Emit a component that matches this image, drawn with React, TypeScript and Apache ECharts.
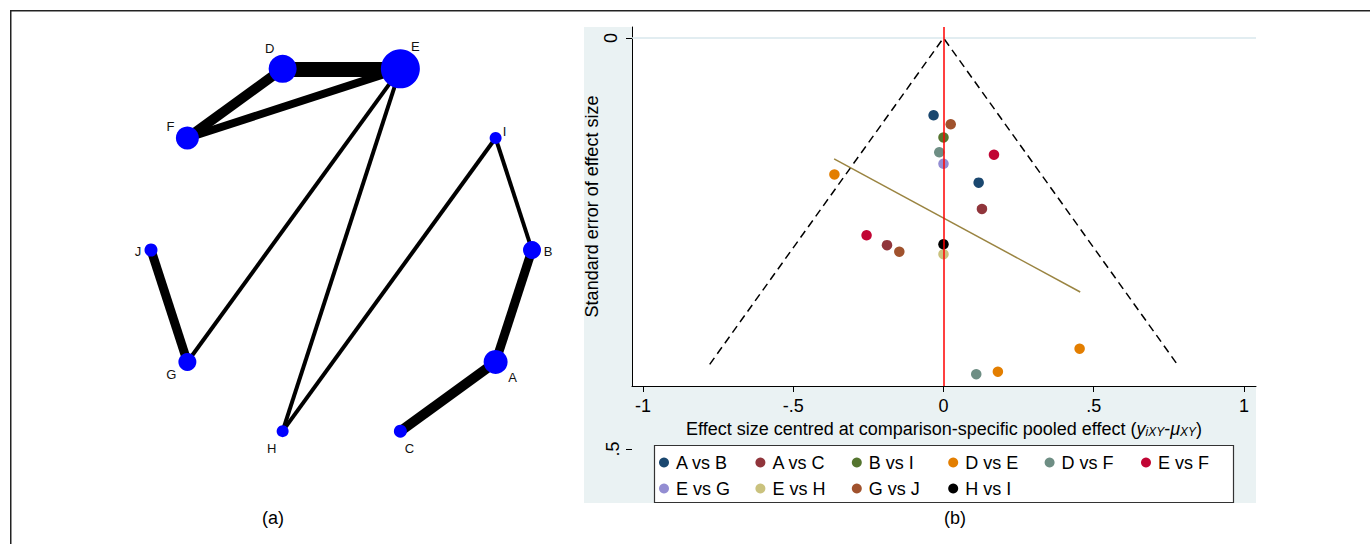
import React, { useEffect, useRef } from 'react';
import * as echarts from 'echarts';

// ---------- Network (panel a) ----------
// ring order of treatments, clockwise starting at 3 o'clock
const RING = ['B', 'A', 'C', 'H', 'G', 'J', 'F', 'D', 'E', 'I'];
const NODE_NAMES = ['A', 'B', 'C', 'D', 'E', 'F', 'G', 'H', 'I', 'J'];
const NODE_WEIGHT = [24, 18, 13, 28, 39, 23, 18, 12, 12, 13];
const EDGE_SOURCE = ['D', 'D', 'E', 'E', 'E', 'H', 'I', 'B', 'A', 'J'];
const EDGE_TARGET = ['E', 'F', 'F', 'G', 'H', 'I', 'B', 'A', 'C', 'G'];
const EDGE_WEIGHT = [15, 10, 8, 4, 4, 4, 4, 9, 10, 9];

// ---------- Comparison-adjusted funnel plot (panel b) ----------
const COMPARISONS = ['A vs B', 'A vs C', 'B vs I', 'D vs E', 'D vs F', 'E vs F', 'E vs G', 'E vs H', 'G vs J', 'H vs I'];
const PTS_A_B = [[-0.033, 0.094], [0.117, 0.176]];
const PTS_A_C = [[0.128, 0.208], [-0.188, 0.252]];
const PTS_B_I = [[0.0, 0.121]];
const PTS_D_E = [[-0.363, 0.166], [0.453, 0.378], [0.181, 0.406]];
const PTS_D_F = [[-0.014, 0.139], [0.109, 0.409]];
const PTS_E_F = [[0.168, 0.142], [-0.256, 0.24]];
const PTS_E_G = [[0.0, 0.153]];
const PTS_E_H = [[0.0, 0.263]];
const PTS_G_J = [[0.024, 0.105], [-0.147, 0.26]];
const PTS_H_I = [[0.0, 0.251]];
const SERIES_POINTS = [PTS_A_B, PTS_A_C, PTS_B_I, PTS_D_E, PTS_D_F, PTS_E_F, PTS_E_G, PTS_E_H, PTS_G_J, PTS_H_I];

const FUNNEL_LIMITS = [[-0.778, 0.397], [0, 0], [0.778, 0.397]];
const REGRESSION_LINE = [[-0.364, 0.147], [0.455, 0.309]];
const X_TICKS = [-1, -0.5, 0, 0.5, 1];
const Y_TICKS_TOP = [0];
const Y_TICKS_BOTTOM = [0.5];

// ---------- styles ----------
const FONT = '"Liberation Sans", Arial, Helvetica, sans-serif';
const COLORS = ['#1a476f', '#90353b', '#55752f', '#e37e00', '#6e8e84', '#c10534', '#938dd2', '#cac27e', '#a0522d', '#000000'];
const LABEL_OFFSET: Record<string, [number, number]> = {
  A: [17, 16], B: [16, 1], C: [9, 17], D: [-13, -20], E: [15, -22],
  F: [-17, -12], G: [-16, 13], H: [-11, 17], I: [9, -7], J: [-13, 1],
};

const stataNum = (v: number) => {
  if (v === 0) return '0';
  const s = String(Math.abs(v)).replace(/^0/, '');
  return (v < 0 ? '-' : '') + s;
};

export default function App() {
  const ref = useRef<HTMLDivElement>(null);
  useEffect(() => {
    if (!ref.current) return;
    const chart = echarts.init(ref.current, null, { renderer: 'svg' });

    const option: any = {
      animation: false,
      textStyle: { fontFamily: FONT },
      polar: { center: [341.5, 250], radius: 190.5 },
      angleAxis: {
        type: 'category', data: RING, startAngle: 18, clockwise: true, boundaryGap: true,
        axisLine: { show: false }, axisTick: { show: false }, axisLabel: { show: false },
        splitLine: { show: false }, splitArea: { show: false },
      },
      radiusAxis: {
        type: 'value', min: 0, max: 1,
        axisLine: { show: false }, axisTick: { show: false }, axisLabel: { show: false },
        splitLine: { show: false }, splitArea: { show: false },
      },
      grid: [
        { left: 632, top: 27, width: 624, height: 359, show: true, backgroundColor: '#ffffff', borderWidth: 0 },
        { left: 632, top: 38, width: 624, height: 411, show: false },
      ],
      xAxis: [
        {
          gridIndex: 0, type: 'value', min: -1.0366, max: 1.04, position: 'bottom',
          axisLine: { onZero: false, lineStyle: { color: '#000', width: 1 } },
          axisTick: { customValues: X_TICKS, length: 6, lineStyle: { color: '#000' } },
          axisLabel: { customValues: X_TICKS, formatter: stataNum, fontSize: 18, color: '#000', margin: 11, fontFamily: FONT },
          splitLine: { show: false },
          name: 'Effect size centred at comparison-specific pooled effect ({i|y}{s|iXY}-{i|μ}{s|XY})',
          nameLocation: 'middle', nameGap: 31,
          nameTextStyle: {
            fontSize: 18, color: '#000', fontFamily: FONT,
            rich: {
              i: { fontSize: 18, fontStyle: 'italic', color: '#000', fontFamily: FONT },
              s: { fontSize: 12, fontStyle: 'italic', color: '#000', fontFamily: FONT, lineHeight: 8, verticalAlign: 'bottom' },
            },
          },
        },
        { gridIndex: 1, type: 'value', min: -1, max: 1, show: false },
      ],
      yAxis: [
        {
          gridIndex: 0, type: 'value', inverse: true, min: -0.01338, max: 0.42336,
          axisLine: { onZero: false, lineStyle: { color: '#000', width: 1 } },
          axisTick: { customValues: Y_TICKS_TOP, length: 6, lineStyle: { color: '#000' } },
          axisLabel: { customValues: Y_TICKS_TOP, formatter: stataNum, rotate: 90, fontSize: 18, color: '#000', margin: 12, fontFamily: FONT },
          splitLine: { show: false },
          name: 'Standard error of effect size', nameLocation: 'middle', nameGap: 30, nameRotate: 90,
          nameTextStyle: { fontSize: 18, color: '#000', fontFamily: FONT },
        },
        {
          gridIndex: 1, type: 'value', inverse: true, min: 0, max: 0.5,
          axisLine: { show: false, onZero: false },
          axisTick: { show: true, customValues: Y_TICKS_BOTTOM, length: 6, lineStyle: { color: '#000' } },
          axisLabel: { customValues: Y_TICKS_BOTTOM, formatter: stataNum, rotate: 90, fontSize: 18, color: '#000', margin: 10, fontFamily: FONT },
          splitLine: { show: false },
        },
      ],
      legend: {
        data: COMPARISONS, left: 659, top: 453.5, width: 600, orient: 'horizontal',
        itemWidth: 14, itemHeight: 10, itemGap: 8, icon: 'circle', padding: 0,
        textStyle: { fontSize: 18, color: '#000', width: 71.4, lineHeight: 17, fontFamily: FONT },
        selectedMode: false, z: 5,
      },
      graphic: [
        { type: 'rect', z: -1, silent: true, shape: { x: 584, y: 27, width: 672, height: 476 }, style: { fill: '#eaf2f3' } },
        { type: 'rect', z: 3, silent: true, shape: { x: 654.5, y: 445.5, width: 579, height: 57 }, style: { fill: '#ffffff', stroke: '#333333', lineWidth: 1.2 } },
        { type: 'rect', z: 10, silent: true, shape: { x: 10.75, y: 10.75, width: 1400, height: 600 }, style: { fill: 'none', stroke: '#222222', lineWidth: 1.5 } },
        { type: 'text', z: 10, silent: true, x: 273, y: 518, style: { text: '(a)', fontSize: 18, fontFamily: FONT, fill: '#000', textAlign: 'center', textVerticalAlign: 'middle' } },
        { type: 'text', z: 10, silent: true, x: 955, y: 518, style: { text: '(b)', fontSize: 18, fontFamily: FONT, fill: '#000', textAlign: 'center', textVerticalAlign: 'middle' } },
      ],
      series: [
        {
          type: 'graph', coordinateSystem: 'polar', polarIndex: 0, layout: 'none', silent: true,
          data: NODE_NAMES.map((n, i) => ({
            name: n, value: [1, RING.indexOf(n)], symbolSize: NODE_WEIGHT[i],
            label: { offset: LABEL_OFFSET[n] },
          })),
          links: EDGE_SOURCE.map((s, i) => ({ source: s, target: EDGE_TARGET[i], lineStyle: { width: EDGE_WEIGHT[i] } })),
          itemStyle: { color: '#0000ff' },
          lineStyle: { color: '#000000', opacity: 1, curveness: 0 },
          label: { show: true, position: 'inside', fontSize: 13, color: '#111', fontFamily: FONT },
          emphasis: { disabled: true },
          z: 2,
        },
        {
          type: 'line', xAxisIndex: 0, yAxisIndex: 0, data: FUNNEL_LIMITS, symbol: 'none', silent: true, z: 1,
          lineStyle: { color: '#000', width: 1.5, type: [8, 5] },
          markLine: {
            silent: true, symbol: ['none', 'none'], label: { show: false },
            data: [
              { yAxis: 0, lineStyle: { color: '#d8e7ec', width: 1.5, type: 'solid' } },
              { xAxis: 0, lineStyle: { color: '#ff0000', width: 1.5, type: 'solid' } },
            ],
          },
        },
        {
          type: 'line', xAxisIndex: 0, yAxisIndex: 0, data: REGRESSION_LINE, symbol: 'none', silent: true, z: 1,
          lineStyle: { color: '#9a8441', width: 1.5 },
        },
        ...COMPARISONS.map((name, i) => ({
          type: 'scatter', name, xAxisIndex: 0, yAxisIndex: 0, data: SERIES_POINTS[i],
          symbol: 'circle', symbolSize: 10.5, itemStyle: { color: COLORS[i], opacity: 1 }, z: 3,
        })),
      ],
    };
    chart.setOption(option);
    return () => chart.dispose();
  }, []);
  return <div ref={ref} style={{ position: 'fixed', left: 0, top: 0, width: 1370, height: 544, background: '#fff' }} />;
}
